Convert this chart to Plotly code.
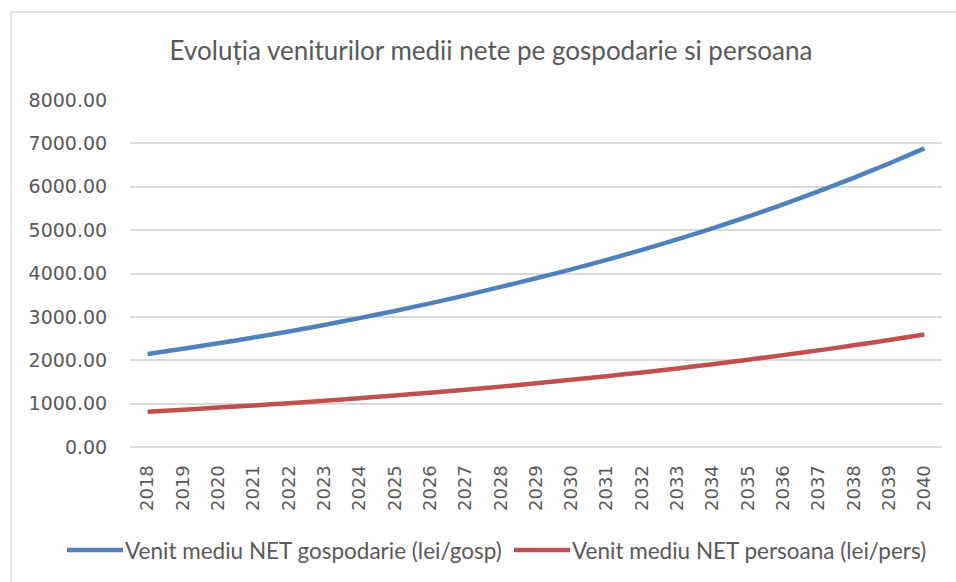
import plotly.graph_objects as go

# Years on the category axis
years = [str(y) for y in range(2018, 2041)]

# Average net income per household (lei/gosp)
venit_gospodarie = [2145, 2265, 2391, 2524, 2665, 2814, 2971, 3137, 3312, 3497,
                    3692, 3889, 4096, 4314, 4544, 4787, 5042, 5311, 5594, 5892,
                    6206, 6537, 6885]

# Average net income per person (lei/pers)
venit_persoana = [815, 860, 908, 958, 1010, 1066, 1125, 1187, 1252, 1320,
                  1392, 1468, 1548, 1632, 1720, 1812, 1910, 2012, 2118, 2228,
                  2344, 2466, 2594]

series_names = ["Venit mediu NET gospodarie (lei/gosp)",
                "Venit mediu NET persoana (lei/pers)"]
series_colors = ["#4F81BD", "#C0504D"]

title_text = "Evoluția veniturilor medii nete pe gospodarie si persoana"

W, H = 956, 582
ML, MR, MT, MB = 130, 14, 100, 135
TEXT = "#595959"
GRID = "#D9D9D9"
TEXT_FONT = "Lato"
TICK_FONT = "DejaVu Sans"

plot_h = H - MT - MB
plot_w = W - ML - MR


def px_x(px):
    """Pixel column -> paper x."""
    return (px - ML) / plot_w


def px_y(py):
    """Pixel row -> paper y."""
    return (H - MB - py) / plot_h


fig = go.Figure()
for vals, name, color in zip([venit_gospodarie, venit_persoana], series_names, series_colors):
    fig.add_trace(go.Scatter(
        x=years, y=vals, mode="lines", name=name,
        line=dict(color=color, width=4.5, shape="spline", smoothing=0.6),
        showlegend=False,
    ))

# light outer frame of the chart area
fig.add_shape(
    type="rect", xref="paper", yref="paper",
    x0=px_x(11), x1=px_x(W + 20), y0=px_y(H + 20), y1=px_y(12),
    line=dict(color=GRID, width=1.5), fillcolor="rgba(0,0,0,0)", layer="below",
)

# legend row below the axis: line sample followed by the series name
legend_y = 550
legend_items = [(67, 123, 123), (514, 570, 570)]
for (lx0, lx1, tx), name, color in zip(legend_items, series_names, series_colors):
    fig.add_shape(
        type="line", xref="paper", yref="paper",
        x0=px_x(lx0), x1=px_x(lx1), y0=px_y(legend_y), y1=px_y(legend_y),
        line=dict(color=color, width=4.5), layer="above",
    )
    fig.add_annotation(
        xref="paper", yref="paper", x=px_x(tx), y=px_y(legend_y),
        xanchor="left", yanchor="middle", showarrow=False,
        text=name, font=dict(size=22.5, color=TEXT, family=TEXT_FONT),
    )

fig.update_layout(
    width=W, height=H,
    margin=dict(l=ML, r=MR, t=MT, b=MB, pad=0),
    paper_bgcolor="white", plot_bgcolor="white",
    font=dict(family=TEXT_FONT, color=TEXT),
    title=dict(
        text=title_text, font=dict(size=26, color=TEXT, family=TEXT_FONT),
        x=491 / W, xanchor="center", xref="container",
        y=1 - 51 / H, yanchor="middle", yref="container",
    ),
    xaxis=dict(
        type="category", range=[-0.5, len(years) - 0.5],
        tickangle=-90, tickfont=dict(size=18, color=TEXT, family=TICK_FONT),
        showgrid=False, showline=False, zeroline=False,
        ticks="outside", ticklen=10, tickcolor="rgba(0,0,0,0)",
    ),
    yaxis=dict(
        range=[0, 8000], tick0=0, dtick=1000, tickformat=".2f",
        tickfont=dict(size=19, color=TEXT, family=TICK_FONT),
        showgrid=True, gridcolor=GRID, gridwidth=1.5,
        zeroline=True, zerolinecolor=GRID, zerolinewidth=1.5,
        showline=False,
        ticks="outside", ticklen=18, tickcolor="rgba(0,0,0,0)",
    ),
    showlegend=False,
)

fig.write_html("out.html")
